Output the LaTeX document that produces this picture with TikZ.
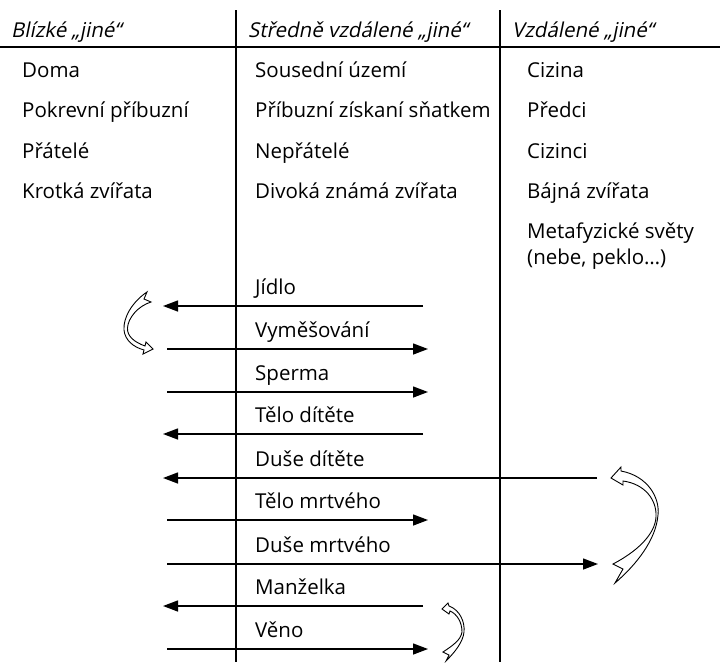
\documentclass[tikz,border=0pt]{standalone}
\usepackage{fontspec}
\setmainfont{Open Sans}
\newfontfamily\obliquefont[FakeSlant=0.2]{Open Sans}
\usetikzlibrary{arrows.meta}
\begin{document}
\begin{tikzpicture}[x=1pt,y=-1pt,
  rule/.style={line width=1.4pt},
  txt/.style={anchor=base west,inner sep=0pt,font=\fontsize{20.5}{24}\selectfont},
  head/.style={txt,font=\fontsize{20.5}{24}\selectfont\obliquefont},
  flow/.style={line width=1.4pt,-{Triangle[length=15pt,width=11pt]}},
  hollow/.style={line width=0.9pt,fill=white,line join=miter}]
\useasboundingbox (0,0) rectangle (720,662);
% grid lines
\coordinate (v1t) at (236,10); \coordinate (v1b) at (236,662);
\coordinate (v2t) at (500,10); \coordinate (v2b) at (500,662);
\coordinate (hl) at (0,47); \coordinate (hr) at (720,47);
\draw[rule] (v1t) -- (v1b);
\draw[rule] (v2t) -- (v2b);
\draw[rule] (hl) -- (hr);
% headers
\node[head] (h1) at (11,37) {Blízké „jiné“};
\node[head] (h2) at (248,37) {Středně vzdálené „jiné“};
\node[head] (h3) at (512,37) {Vzdálené „jiné“};
% column 1
\node[txt] (a1) at (22,77) {Doma};
\node[txt] (a2) at (22,117) {Pokrevní příbuzní};
\node[txt] (a3) at (22,158) {Přátelé};
\node[txt] (a4) at (22,198) {Krotká zvířata};
% column 2
\node[txt] (b1) at (255,77) {Sousední území};
\node[txt] (b2) at (255,117) {Příbuzní získaní sňatkem};
\node[txt] (b3) at (255,158) {Nepřátelé};
\node[txt] (b4) at (255,198) {Divoká známá zvířata};
% column 3
\node[txt] (c1) at (527,77) {Cizina};
\node[txt] (c2) at (527,117) {Předci};
\node[txt] (c3) at (527,158) {Cizinci};
\node[txt] (c4) at (527,198) {Bájná zvířata};
\node[txt] (c5) at (527,238) {Metafyzické světy};
\node[txt] (c6) at (527,264) {(nebe, peklo…)};
% flow labels
\node[txt] (l1) at (255,294) {Jídlo};
\node[txt] (l2) at (255,337) {Vyměšování};
\node[txt] (l3) at (255,380) {Sperma};
\node[txt] (l4) at (255,422) {Tělo dítěte};
\node[txt] (l5) at (255,466) {Duše dítěte};
\node[txt] (l6) at (255,508) {Tělo mrtvého};
\node[txt] (l7) at (255,552) {Duše mrtvého};
\node[txt] (l8) at (255,594) {Manželka};
\node[txt] (l9) at (255,637) {Věno};
% flow arrows
\coordinate (p1a) at (423,306); \coordinate (p1b) at (163,306);
\coordinate (p2a) at (167,349); \coordinate (p2b) at (428,349);
\coordinate (p3a) at (167,392); \coordinate (p3b) at (428,392);
\coordinate (p4a) at (423,434); \coordinate (p4b) at (163,434);
\coordinate (p5a) at (597,478); \coordinate (p5b) at (163,478);
\coordinate (p6a) at (167,520); \coordinate (p6b) at (428,520);
\coordinate (p7a) at (167,564); \coordinate (p7b) at (598,564);
\coordinate (p8a) at (423,606); \coordinate (p8b) at (163,606);
\coordinate (p9a) at (167,649); \coordinate (p9b) at (428,649);
\foreach \i in {1,...,9} {\draw[flow] (p\i a) -- (p\i b);}
% hollow curved arrows
% left: Jidlo -> Vymesovani
\draw[hollow] (147,292) .. controls (132,302) and (123,318) .. (124,330)
  .. controls (125,340) and (133,347) .. (144,350)
  -- (143,354) -- (153,349) -- (146,342) -- (145,346)
  .. controls (134,342) and (127,336) .. (127.5,328)
  .. controls (128,318) and (138,306) .. (151,302)
  -- (144,299) -- cycle;
% right big: Duse mrtveho -> Duse ditete
\draw[hollow] (611,478) -- (621,467) -- (621,471)
  .. controls (648,476) and (660,498) .. (658,515)
  .. controls (656,540) and (636,565) .. (615,583)
  -- (623,569) -- (613,564)
  .. controls (636,552) and (655,535) .. (656,517)
  .. controls (657,500) and (645,484) .. (623,481)
  -- (623,485) -- cycle;
% small bottom: Veno -> Manzelka
\draw[hollow] (442,609) -- (448,603) -- (449,606)
  .. controls (460,610) and (465,622) .. (464,632)
  .. controls (463,642) and (455,652) .. (446,661)
  -- (449,655) -- (443,652)
  .. controls (452,646) and (461,640) .. (462,632)
  .. controls (462,622) and (457,614) .. (450,611)
  -- (449,614) -- cycle;
\end{tikzpicture}
\end{document}
